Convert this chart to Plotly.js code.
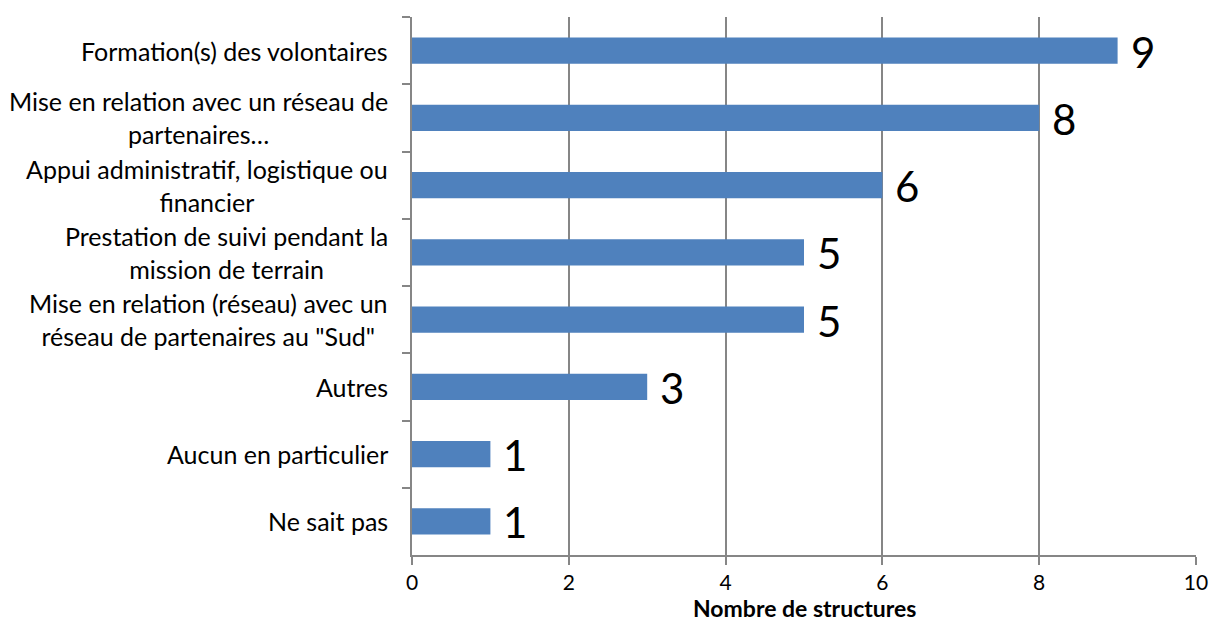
<!DOCTYPE html>
<html>
<head>
<meta charset="utf-8">
<script src="https://cdn.plot.ly/plotly-3.0.1.min.js"></script>
<style>
  html, body { margin: 0; padding: 0; background: #fff; }
  #chart { width: 1211px; height: 622px; }
</style>
</head>
<body>
<div id="chart"></div>
<script>
// categories, top to bottom
const categories = [
  "Formation(s) des volontaires",
  "Mise en relation avec un réseau de<br>partenaires…",
  "Appui administratif, logistique ou<br>financier",
  "Prestation de suivi pendant la<br>mission de terrain",
  "Mise en relation (réseau) avec un<br>réseau de partenaires au \"Sud\"",
  "Autres",
  "Aucun en particulier",
  "Ne sait pas"
];
const counts = [9, 8, 6, 5, 5, 3, 1, 1];
const xTicks = [0, 2, 4, 6, 8, 10];
const xTitle = "Nombre de structures";

const FONT = "Lato, 'Open Sans', sans-serif";
const GRAY = "#868686";
const ids = categories.map((c, i) => "c" + i);

const trace = {
  type: "bar",
  orientation: "h",
  x: counts,
  y: ids,
  marker: { color: "#4F81BD" },
  hoverinfo: "skip"
};

const annotations = [];
categories.forEach((c, i) => {
  annotations.push({
    x: 0, y: ids[i], xref: "x", yref: "y",
    text: c, showarrow: false, xanchor: "right", align: "center",
    xshift: -22, font: { family: FONT, size: 25, color: "#000" }
  });
  annotations.push({
    x: counts[i], y: ids[i], xref: "x", yref: "y",
    text: String(counts[i]), showarrow: false, xanchor: "left",
    xshift: 11, yshift: -1, font: { family: FONT, size: 42, color: "#000" }
  });
});

// axis title placed under the tick labels
annotations.push({
  x: 0.5, y: 0, xref: "paper", yref: "paper", yanchor: "middle", yshift: -53,
  text: "<b>" + xTitle + "</b>", showarrow: false,
  font: { family: FONT, size: 23, color: "#000" }
});

const layout = {
  width: 1211, height: 622,
  margin: { l: 412, r: 15, t: 17, b: 67 },
  paper_bgcolor: "#fff", plot_bgcolor: "#fff",
  showlegend: false,
  bargap: 0.61,
  font: { family: FONT, size: 21, color: "#000" },
  xaxis: {
    range: [0, 10], tickvals: xTicks, ticktext: xTicks.map(String),
    showgrid: true, gridcolor: GRAY, gridwidth: 2,
    showline: true, linecolor: GRAY, linewidth: 2,
    ticks: "outside", ticklen: 8, tickcolor: GRAY, tickwidth: 2,
    zeroline: false,
    tickfont: { family: FONT, size: 21, color: "#000" }
  },
  yaxis: {
    type: "category", categoryorder: "array", categoryarray: ids,
    range: [7.5, -0.5],
    showgrid: false, zeroline: false,
    showline: true, linecolor: GRAY, linewidth: 2,
    ticks: "outside", tickson: "boundaries", ticklen: 8, tickcolor: GRAY, tickwidth: 2,
    showticklabels: false
  },
  annotations: annotations
};

Plotly.newPlot("chart", [trace], layout, { staticPlot: true });
</script>
</body>
</html>
